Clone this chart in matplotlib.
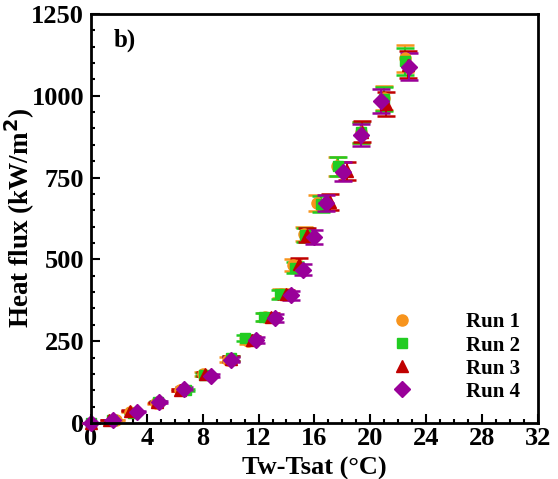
import matplotlib

matplotlib.use('Agg')

import matplotlib.pyplot as plt
from matplotlib.lines import Line2D
from matplotlib.ticker import MultipleLocator

# Tw-Tsat (C) and heat flux (kW/m2) for each run
run1_x = [0, 1.8, 2.8, 4.65, 6.35, 8.0, 9.8, 11.25, 12.45, 13.6, 14.5, 15.25, 16.2, 17.6, 19.3, 21.0, 22.45]
run1_y = [0, 10, 35, 60, 100, 150, 193, 249, 323, 395, 483, 577, 672, 784, 888, 992, 1115]
run2_x = [0, 1.5, 3.0, 4.8, 6.8, 8.1, 10.0, 11.0, 12.4, 13.5, 14.6, 15.3, 16.5, 17.7, 19.3, 21.0, 22.5]
run2_y = [0, 10, 30, 65, 100, 148, 197, 260, 325, 393, 475, 575, 670, 785, 888, 990, 1105]
run3_x = [0, 1.3, 2.8, 4.7, 6.4, 8.2, 10.0, 11.5, 12.9, 14.0, 14.9, 15.5, 17.1, 18.3, 19.4, 21.1, 22.7]
run3_y = [0, 10, 37, 63, 100, 150, 196, 255, 325, 393, 485, 575, 675, 770, 890, 975, 1095]
run4_x = [0, 1.6, 3.3, 4.9, 6.65, 8.6, 10.06, 11.85, 13.2, 14.3, 15.2, 15.95, 16.86, 18.05, 19.3, 20.8, 22.77]
run4_y = [0, 8, 34, 64, 105, 145, 193, 254, 321, 390, 468, 568, 672, 768, 880, 984, 1089]
err_frac = 0.037

labels = ['Run 1', 'Run 2', 'Run 3', 'Run 4']
colors = ['#F7941D', '#22CC22', '#C00000', '#990099']
markers = ['o', 's', '^', 'D']
msizes = [8, 7, 8, 8]

plt.rcParams['font.family'] = ['Liberation Serif', 'DejaVu Serif']
plt.rcParams['font.weight'] = 'bold'

fig = plt.figure(figsize=(5.58, 4.79), dpi=100)
ax = fig.add_axes([0.163, 0.117, 0.801, 0.854])

runs = [(run1_x, run1_y), (run2_x, run2_y), (run3_x, run3_y), (run4_x, run4_y)]
for (xs, ys), c, m, s in zip(runs, colors, markers, msizes):
    yerr = [v * err_frac for v in ys]
    ax.errorbar(xs, ys, yerr=yerr, fmt=m, color=c, ms=s, mec=c,
                ecolor=c, elinewidth=1.5, capsize=6.5, capthick=1.8, clip_on=False)

ax.set_xlim(0, 32)
ax.set_ylim(0, 1250)
ax.xaxis.set_major_locator(MultipleLocator(4))
ax.xaxis.set_minor_locator(MultipleLocator(1))
ax.yaxis.set_major_locator(MultipleLocator(250))
ax.yaxis.set_minor_locator(MultipleLocator(50))
ax.tick_params(which='both', direction='in', top=False, right=False, width=1.5)
ax.tick_params(which='major', length=6.5, labelsize=19)
ax.tick_params(axis='y', which='major', pad=5)
ax.tick_params(axis='x', which='major', pad=3)
ax.tick_params(which='minor', length=3)
for sp in ax.spines.values():
    sp.set_linewidth(2)

ax.set_xlabel('Tw-Tsat (\u00b0C)', fontsize=19, fontweight='bold', labelpad=5)
ax.set_ylabel('Heat flux (kW/m$^{\\mathbf{2}}$)', fontsize=19.5, fontweight='bold', labelpad=-4)
ax.text(0.05, 0.965, 'b)', transform=ax.transAxes, fontsize=18, fontweight='bold', va='top')

handles = [Line2D([], [], linestyle='none', marker=m, color=c, ms=s)
           for c, m, s in zip(colors, markers, msizes)]
ax.legend(handles, labels, loc='lower right', bbox_to_anchor=(1.003, 0.006), frameon=False,
          handlelength=1, handletextpad=2.6, labelspacing=0.15,
          prop={'weight': 'bold', 'size': 15})

plt.savefig('out.png', dpi=100)
plt.close(fig)
